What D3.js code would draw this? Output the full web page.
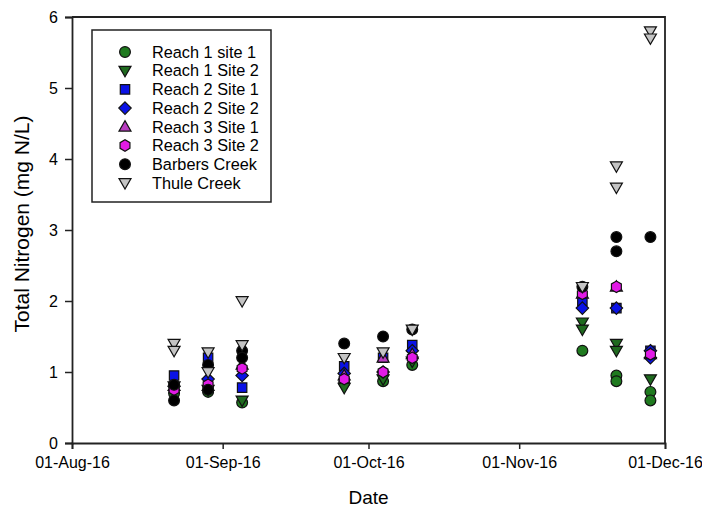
<!DOCTYPE html>
<html>
<head>
<meta charset="utf-8">
<script src="https://cdn.jsdelivr.net/npm/d3@7"></script>
<style>
	body { margin: 0; background: #fff; }
	text { font-family: Arial, "Liberation Sans", sans-serif; fill: #000; }
</style>
</head>
<body>
<svg id="chart" width="702" height="513"></svg>
<script>
// sampling dates (one group of markers per date)
var sampleDates = ["2016-08-22", "2016-08-29", "2016-09-05", "2016-09-26", "2016-10-04",
	"2016-10-10", "2016-11-14", "2016-11-21", "2016-11-28"];

// values per date, one inner list per date (some dates have two samples)
var reach1Site1 = [[0.70], [0.72], [0.57], [0.85], [0.87], [1.10], [1.30], [0.95, 0.87], [0.72, 0.60]];
var reach1Site2 = [[0.80], [0.75], [0.60], [0.78], [0.90], [1.15], [1.70, 1.60], [1.40, 1.30], [0.90]];
var reach2Site1 = [[0.95], [1.20], [0.78], [1.08], [1.20], [1.38], [2.00], [1.90], [1.30]];
var reach2Site2 = [[0.80], [0.90], [0.95], [0.98], [1.00], [1.30], [1.90], [1.90], [1.30, 1.20]];
var reach3Site1 = [[0.80], [0.80], [1.10], [0.95], [1.20], [1.25], [2.10], [2.20], [1.25]];
var reach3Site2 = [[0.75], [0.82], [1.05], [0.90], [1.00], [1.20], [2.10], [2.20], [1.25]];
var barbersCreek = [[0.60, 0.82], [1.10, 0.75], [1.30, 1.20], [1.40], [1.50], [1.60], [2.20], [2.90, 2.70], [2.90]];
var thuleCreek = [[1.40, 1.30], [1.28, 1.00], [2.00, 1.38], [1.20], [1.28], [1.60], [2.20], [3.90, 3.60], [5.80, 5.70]];

var seriesNames = ["Reach 1 site 1", "Reach 1 Site 2", "Reach 2 Site 1", "Reach 2 Site 2",
	"Reach 3 Site 1", "Reach 3 Site 2", "Barbers Creek", "Thule Creek"];
var seriesValues = [reach1Site1, reach1Site2, reach2Site1, reach2Site2,
	reach3Site1, reach3Site2, barbersCreek, thuleCreek];

var xTickDates = ["2016-08-01", "2016-09-01", "2016-10-01", "2016-11-01", "2016-12-01"];
var yTicks = [0, 1, 2, 3, 4, 5, 6];

// marker style per series
var styles = [
	{ shape: "circle", fill: "#1f7a1f" },
	{ shape: "triDown", fill: "#1f6a1f" },
	{ shape: "square", fill: "#0a12e6" },
	{ shape: "diamond", fill: "#0a12e6" },
	{ shape: "triUp", fill: "#b83cc0" },
	{ shape: "hexagon", fill: "#e21be6" },
	{ shape: "circle", fill: "#000000" },
	{ shape: "triDown", fill: "#c4c4c4" }
];

var parse = d3.timeParse("%Y-%m-%d");
var svg = d3.select("#chart");
var plot = { left: 72, right: 665, top: 17, bottom: 443 };

var x = d3.scaleTime()
	.domain([parse(xTickDates[0]), parse(xTickDates[xTickDates.length - 1])])
	.range([plot.left, plot.right]);
var y = d3.scaleLinear().domain([0, 6]).range([plot.bottom, plot.top]);

//Path for each marker shape, centred on 0,0
function markerPath(shape) {
	var r = 5.4;
	if (shape == "circle") return d3.symbol(d3.symbolCircle, Math.PI * r * r)();
	if (shape == "square") return "M-4.7,-4.7H4.7V4.7H-4.7Z";
	if (shape == "diamond") return "M0,-6.2L6.2,0L0,6.2L-6.2,0Z";
	if (shape == "triDown") return "M-6,-4.3L6,-4.3L0,6.1Z";
	if (shape == "triUp") return "M-6,4.3L6,4.3L0,-6.1Z";
	var pts = d3.range(6).map(i => {
		var a = Math.PI / 6 + i * Math.PI / 3;
		return [5.7 * Math.cos(a), 5.7 * Math.sin(a)];
	});
	return "M" + pts.join("L") + "Z";
}

//Axes
var xAxis = d3.axisBottom(x)
	.tickValues(xTickDates.map(parse))
	.tickFormat(d3.timeFormat("%d-%b-%y"))
	.tickSizeOuter(0)
	.tickSize(6)
	.tickPadding(8);
var gx = svg.append("g").attr("transform", "translate(0," + plot.bottom + ")").call(xAxis);

var yAxis = d3.axisLeft(y).tickValues(yTicks).tickFormat(d3.format("d"))
	.tickSizeOuter(0).tickSize(7).tickPadding(7);
var gy = svg.append("g").attr("transform", "translate(" + plot.left + ",0)").call(yAxis);

[gx, gy].forEach(g => {
	g.selectAll("text").style("font-size", "16px").attr("fill", "#111");
	g.selectAll("line").attr("stroke", "#222").attr("stroke-width", 1.5);
	g.select(".domain").attr("stroke", "#222").attr("stroke-width", 1.8);
});

//Top and right frame lines
svg.append("path")
	.attr("d", "M" + plot.left + "," + plot.top + "H" + plot.right + "V" + plot.bottom)
	.attr("fill", "none").attr("stroke", "#222").attr("stroke-width", 1.8);

//Axis titles
svg.append("text")
	.attr("x", (plot.left + plot.right) / 2).attr("y", 504)
	.attr("text-anchor", "middle").style("font-size", "19px")
	.text("Date");
svg.append("text")
	.attr("transform", "translate(29," + ((plot.top + plot.bottom) / 2 - 6) + ") rotate(-90)")
	.attr("text-anchor", "middle").style("font-size", "21px")
	.text("Total Nitrogen (mg N/L)");

//Markers
var points = [];
seriesValues.forEach((series, s) => {
	series.forEach((vals, i) => {
		vals.forEach(v => points.push({ s: s, date: parse(sampleDates[i]), value: v }));
	});
});

svg.append("g").selectAll("path").data(points).enter().append("path")
	.attr("d", d => markerPath(styles[d.s].shape))
	.attr("transform", d => "translate(" + x(d.date) + "," + y(d.value) + ")")
	.attr("fill", d => styles[d.s].fill)
	.attr("stroke", "#111")
	.attr("stroke-width", 1.2);

//Legend
var legend = svg.append("g");
legend.append("rect")
	.attr("x", 92).attr("y", 30).attr("width", 179).attr("height", 172)
	.attr("fill", "#fff").attr("stroke", "#222").attr("stroke-width", 1.5);

var rows = legend.selectAll("g.row").data(seriesNames).enter().append("g")
	.attr("class", "row")
	.attr("transform", (d, i) => "translate(0," + (52 + i * 18.7) + ")");
rows.append("path")
	.attr("d", (d, i) => markerPath(styles[i].shape))
	.attr("transform", "translate(125,0)")
	.attr("fill", (d, i) => styles[i].fill)
	.attr("stroke", "#111").attr("stroke-width", 1.2);
rows.append("text")
	.attr("x", 152).attr("dy", "0.35em")
	.style("font-size", "16.3px")
	.text(d => d);
</script>
</body>
</html>
